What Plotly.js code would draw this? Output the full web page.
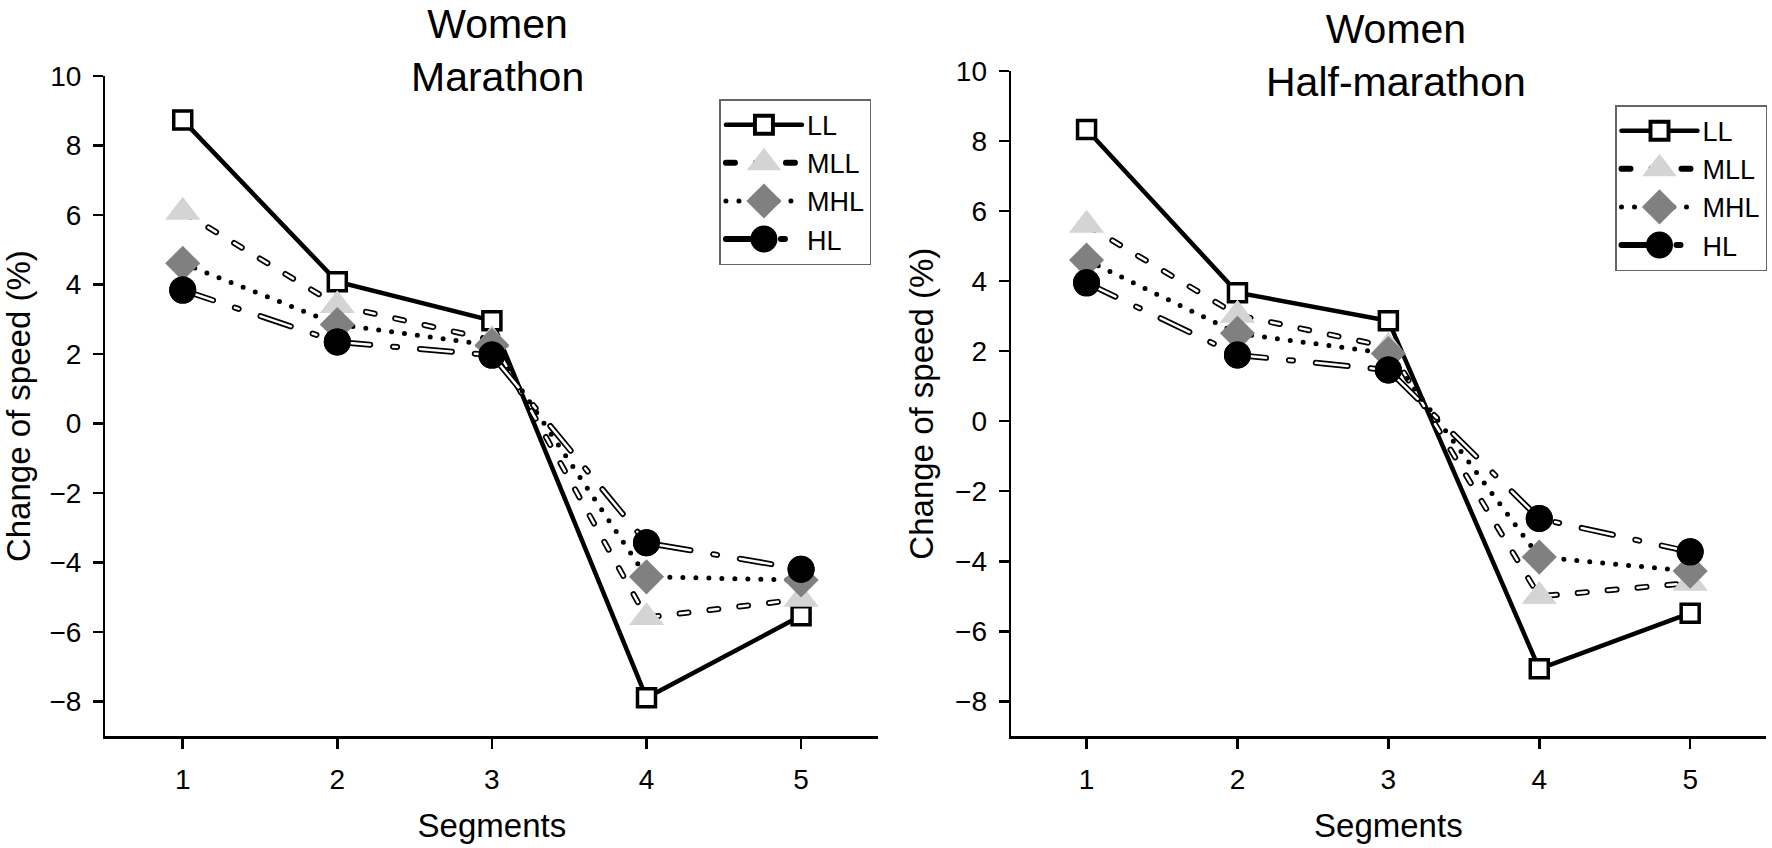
<!DOCTYPE html>
<html>
<head>
<meta charset="utf-8">
<script src="https://cdn.plot.ly/plotly-3.0.1.min.js"></script>
<style>
  body { margin: 0; background: #fff; }
  #graph { width: 1772px; height: 848px; }
  /* round ends so the dotted / dashed lines look like the original */
  .scatterlayer path.js-line, .legendlines path { stroke-linecap: round; }
</style>
</head>
<body>
<div id="graph"></div>
<script>
// segments on the x axis
var segments = [1, 2, 3, 4, 5];
var groups = ['LL', 'MLL', 'MHL', 'HL'];

// women, marathon (change of speed, %)
var marLL  = [8.73, 4.08, 2.96, -7.89, -5.53];
var marMLL = [6.09, 3.40, 2.40, -5.58, -5.05];
var marMHL = [4.61, 2.85, 2.25, -4.41, -4.50];
var marHL  = [3.84, 2.35, 1.97, -3.43, -4.19];

// women, half-marathon
var halfLL  = [8.33, 3.67, 2.87, -7.07, -5.48];
var halfMLL = [5.60, 3.03, 2.12, -5.00, -4.62];
var halfMHL = [4.60, 2.51, 1.93, -3.88, -4.28];
var halfHL  = [3.95, 1.89, 1.46, -2.78, -3.73];

var yTicks = [-8, -6, -4, -2, 0, 2, 4, 6, 8, 10];

var font = 'Liberation Sans, Arial, sans-serif';

// look of each group
var styles = {
  LL:  {dash: 'solid', hollow: false, width: 4.5,
        marker: {symbol: 'square', size: 18, color: '#ffffff', line: {color: '#000', width: 3.5}}},
  MLL: {dash: '9px,21px', hollow: true, width: 6,
        marker: {symbol: 'triangle-up', size: 30, color: '#d4d4d4', line: {width: 0}}},
  MHL: {dash: '0px,13px', hollow: false, width: 5,
        marker: {symbol: 'diamond', size: 27, color: '#808080', line: {width: 0}}},
  HL:  {dash: '32px,23px,4px,23px', hollow: true, width: 6,
        marker: {symbol: 'circle', size: 27, color: '#000000', line: {width: 0}}}
};

function seriesTraces(name, y, xa, ya, legend) {
  var s = styles[name];
  var out = [];
  // main trace (carries the legend entry)
  out.push({
    x: segments, y: y, name: name, xaxis: xa, yaxis: ya, legend: legend,
    mode: 'lines+markers', type: 'scatter',
    line: {color: '#000', width: s.width, dash: s.dash},
    marker: s.marker
  });
  if (s.hollow) {
    // white core of the outlined dashes
    out.push({
      x: segments, y: y, xaxis: xa, yaxis: ya, showlegend: false, hoverinfo: 'skip',
      mode: 'lines', type: 'scatter',
      line: {color: '#fff', width: 2.5, dash: s.dash}
    });
    // markers again on top of the core
    out.push({
      x: segments, y: y, xaxis: xa, yaxis: ya, showlegend: false,
      mode: 'markers', type: 'scatter', marker: s.marker
    });
  }
  return out;
}

var marData = [marLL, marMLL, marMHL, marHL];
var halfData = [halfLL, halfMLL, halfMHL, halfHL];

var data = [];
groups.forEach(function (g, i) {
  data = data.concat(seriesTraces(g, marData[i], 'x', 'y', 'legend'));
});
groups.forEach(function (g, i) {
  data = data.concat(seriesTraces(g, halfData[i], 'x2', 'y2', 'legend2'));
});

function xAxis(domain, anchor) {
  return {
    domain: domain, anchor: anchor, range: [0.5, 5.5],
    tickvals: segments, ticks: 'outside', ticklen: 10, tickwidth: 2.5, tickcolor: '#000',
    showline: true, linecolor: '#000', linewidth: 2.5,
    showgrid: false, zeroline: false, ticklabelstandoff: 6,
    tickfont: {family: font, size: 28, color: '#000'},
    title: {text: 'Segments', font: {family: font, size: 33, color: '#000'}, standoff: 21}
  };
}

function yAxis(domain, anchor) {
  return {
    domain: domain, anchor: anchor, range: [-9, 10],
    tickvals: yTicks, ticks: 'outside', ticklen: 10, tickwidth: 2.5, tickcolor: '#000',
    showline: true, linecolor: '#000', linewidth: 2.5,
    showgrid: false, zeroline: false, ticklabelstandoff: 6,
    tickfont: {family: font, size: 28, color: '#000'},
    title: {text: 'Change of speed (%)', font: {family: font, size: 33, color: '#000'}, standoff: 12}
  };
}

function legendBox(x, y) {
  return {
    x: x, y: y, xanchor: 'left', yanchor: 'top',
    bordercolor: '#666', borderwidth: 1.5, bgcolor: '#fff',
    font: {family: font, size: 27, color: '#000'},
    itemwidth: 76, tracegroupgap: 0
  };
}

var layout = {
  width: 1772, height: 848,
  margin: {l: 0, r: 0, t: 0, b: 0},
  paper_bgcolor: '#fff', plot_bgcolor: '#fff',
  font: {family: font, color: '#000'},
  showlegend: true,
  xaxis: xAxis([0.0595, 0.4957], 'y'),
  yaxis: yAxis([0.1316, 0.9104], 'x'),
  xaxis2: xAxis([0.5706, 0.9964], 'y2'),
  yaxis2: yAxis([0.1316, 0.9163], 'x2'),
  legend: legendBox(0.406, 0.883),
  legend2: legendBox(0.9114, 0.876),
  annotations: [
    {text: 'Women<br>Marathon', xref: 'paper', yref: 'paper', x: 0.2805, y: 0.941,
     xanchor: 'center', yanchor: 'middle', showarrow: false,
     font: {family: font, size: 41, color: '#000'}},
    {text: 'Women<br>Half-marathon', xref: 'paper', yref: 'paper', x: 0.788, y: 0.935,
     xanchor: 'center', yanchor: 'middle', showarrow: false,
     font: {family: font, size: 41, color: '#000'}}
  ]
};

Plotly.newPlot('graph', data, layout, {staticPlot: true}).then(function (gd) {
  // legend markers are capped at 16px, blow them back up to the plot size (both legends)
  gd.querySelectorAll('.infolayer g.traces').forEach(function (item) {
    var d = item.__data__;
    if (!d || !d[0] || !d[0].trace) return;
    var scale = d[0].trace.marker.size / 16;
    item.querySelectorAll('.legendpoints path.scatterpts').forEach(function (p) {
      p.setAttribute('transform', (p.getAttribute('transform') || '') + ' scale(' + scale + ')');
    });
  });
});
</script>
</body>
</html>
